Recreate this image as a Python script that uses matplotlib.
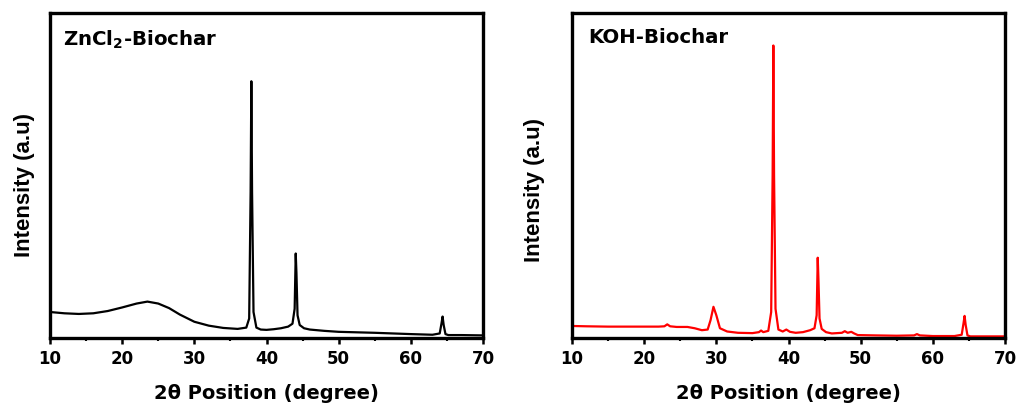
import matplotlib
matplotlib.use("Agg")
import matplotlib.pyplot as plt
from matplotlib.ticker import MultipleLocator

plt.rcParams['font.family'] = ['DejaVu Sans']
plt.rcParams['font.weight'] = 'bold'
plt.rcParams['mathtext.default'] = 'bf'

# ZnCl2-Biochar pattern (key points)
zn_x = [10, 12, 14, 16, 18, 20, 22, 23.5, 25, 26.5, 28, 30, 32, 34, 36, 37.2, 37.6,
        37.8, 37.9, 38.0, 38.2, 38.6, 39.2, 40, 41, 42, 43, 43.6, 43.9, 44.05, 44.15,
        44.3, 44.6, 45.2, 46, 48, 50, 55, 60, 63, 64.0, 64.25, 64.4, 64.55, 64.8, 65.2,
        67, 70]
zn_y = [8.0, 7.6, 7.4, 7.6, 8.3, 9.4, 10.6, 11.2, 10.6, 9.2, 7.2, 5.0, 3.8, 3.1, 2.8, 3.2, 6.0,
        45, 79, 45, 8.0, 3.2, 2.6, 2.5, 2.7, 3.0, 3.5, 4.4, 9.0, 26, 20,
        7.0, 4.0, 3.0, 2.6, 2.2, 1.9, 1.6, 1.2, 1.0, 1.4, 4.5, 6.6, 4.0, 1.2, 0.9,
        0.9, 0.8]

# KOH-Biochar pattern (key points)
koh_x = [10, 12, 15, 18, 20, 22, 22.8, 23.2, 23.6, 24.5, 26, 27, 28, 28.8, 29.2, 29.6,
         30.0, 30.5, 31.5, 33, 35, 35.9, 36.2, 36.5, 37.2, 37.6, 37.8, 37.9, 38.0, 38.2,
         38.6, 39.2, 39.7, 40.2, 41, 42, 43, 43.6, 43.9, 44.05, 44.15, 44.3, 44.6, 45.2,
         46, 47.4, 47.8, 48.2, 48.7, 49.1, 49.6, 52, 55, 57.4, 57.8, 58.2, 60, 63, 64.0,
         64.25, 64.4, 64.55, 64.8, 65.2, 67, 70]
koh_y = [3.7, 3.6, 3.5, 3.5, 3.5, 3.5, 3.6, 4.2, 3.6, 3.4, 3.4, 3.0, 2.4, 2.6, 5.5, 9.6,
         7.0, 3.0, 2.0, 1.6, 1.5, 1.8, 2.3, 1.8, 2.2, 8.0, 50, 90, 50, 9.0,
         2.6, 2.0, 2.6, 1.9, 1.6, 1.8, 2.4, 3.0, 7.0, 24.7, 18,
         6.0, 2.8, 1.8, 1.4, 1.6, 2.1, 1.6, 1.9, 1.4, 0.9, 0.8, 0.7, 0.8, 1.2, 0.8, 0.6, 0.6, 1.0,
         4.5, 6.8, 4.0, 0.8, 0.5, 0.5, 0.5]

panels = [
    (zn_x, zn_y, 'black', r'ZnCl$_\mathbf{2}$-Biochar'),
    (koh_x, koh_y, '#ff0000', 'KOH-Biochar'),
]

fig = plt.figure(figsize=(10.18, 4.07), dpi=100)
W, H = 1018, 407
boxes = [(50, 13, 483, 338), (572, 13, 1005, 338)]
ylab_pos = [(-0.035, 0.47), (-0.062, 0.455)]
title_x = [0.030, 0.037]

for i, ((xs, ys, col, label), (l, t, r, b)) in enumerate(zip(panels, boxes)):
    ax = fig.add_axes([l / W, 1 - b / H, (r - l) / W, (b - t) / H])
    ax.plot(xs, ys, color=col, lw=1.6, solid_joinstyle='round')
    ax.set_xlim(10, 70)
    ax.set_ylim(0, 100)
    ax.xaxis.set_major_locator(MultipleLocator(10))
    ax.xaxis.set_minor_locator(MultipleLocator(5))
    ax.set_yticks([])
    ax.tick_params(axis='x', which='major', direction='out', length=4, width=1.8,
                   labelsize=12, pad=5)
    ax.tick_params(axis='x', which='minor', direction='out', length=2.5, width=1.5)
    for lab in ax.get_xticklabels():
        lab.set_fontweight('bold')
    for sp in ax.spines.values():
        sp.set_linewidth(2.4)
    ax.set_xlabel('2θ Position (degree)', fontsize=14, fontweight='bold', labelpad=11)
    ax.set_ylabel('Intensity (a.u)', fontsize=16, fontweight='bold',
                  family=['Liberation Sans', 'DejaVu Sans'])
    ax.yaxis.set_label_coords(*ylab_pos[i])
    ax.text(title_x[i], 0.953, label, transform=ax.transAxes, fontsize=14.2,
            fontweight='bold', va='top', ha='left')

fig.savefig('out.png', dpi=100)
